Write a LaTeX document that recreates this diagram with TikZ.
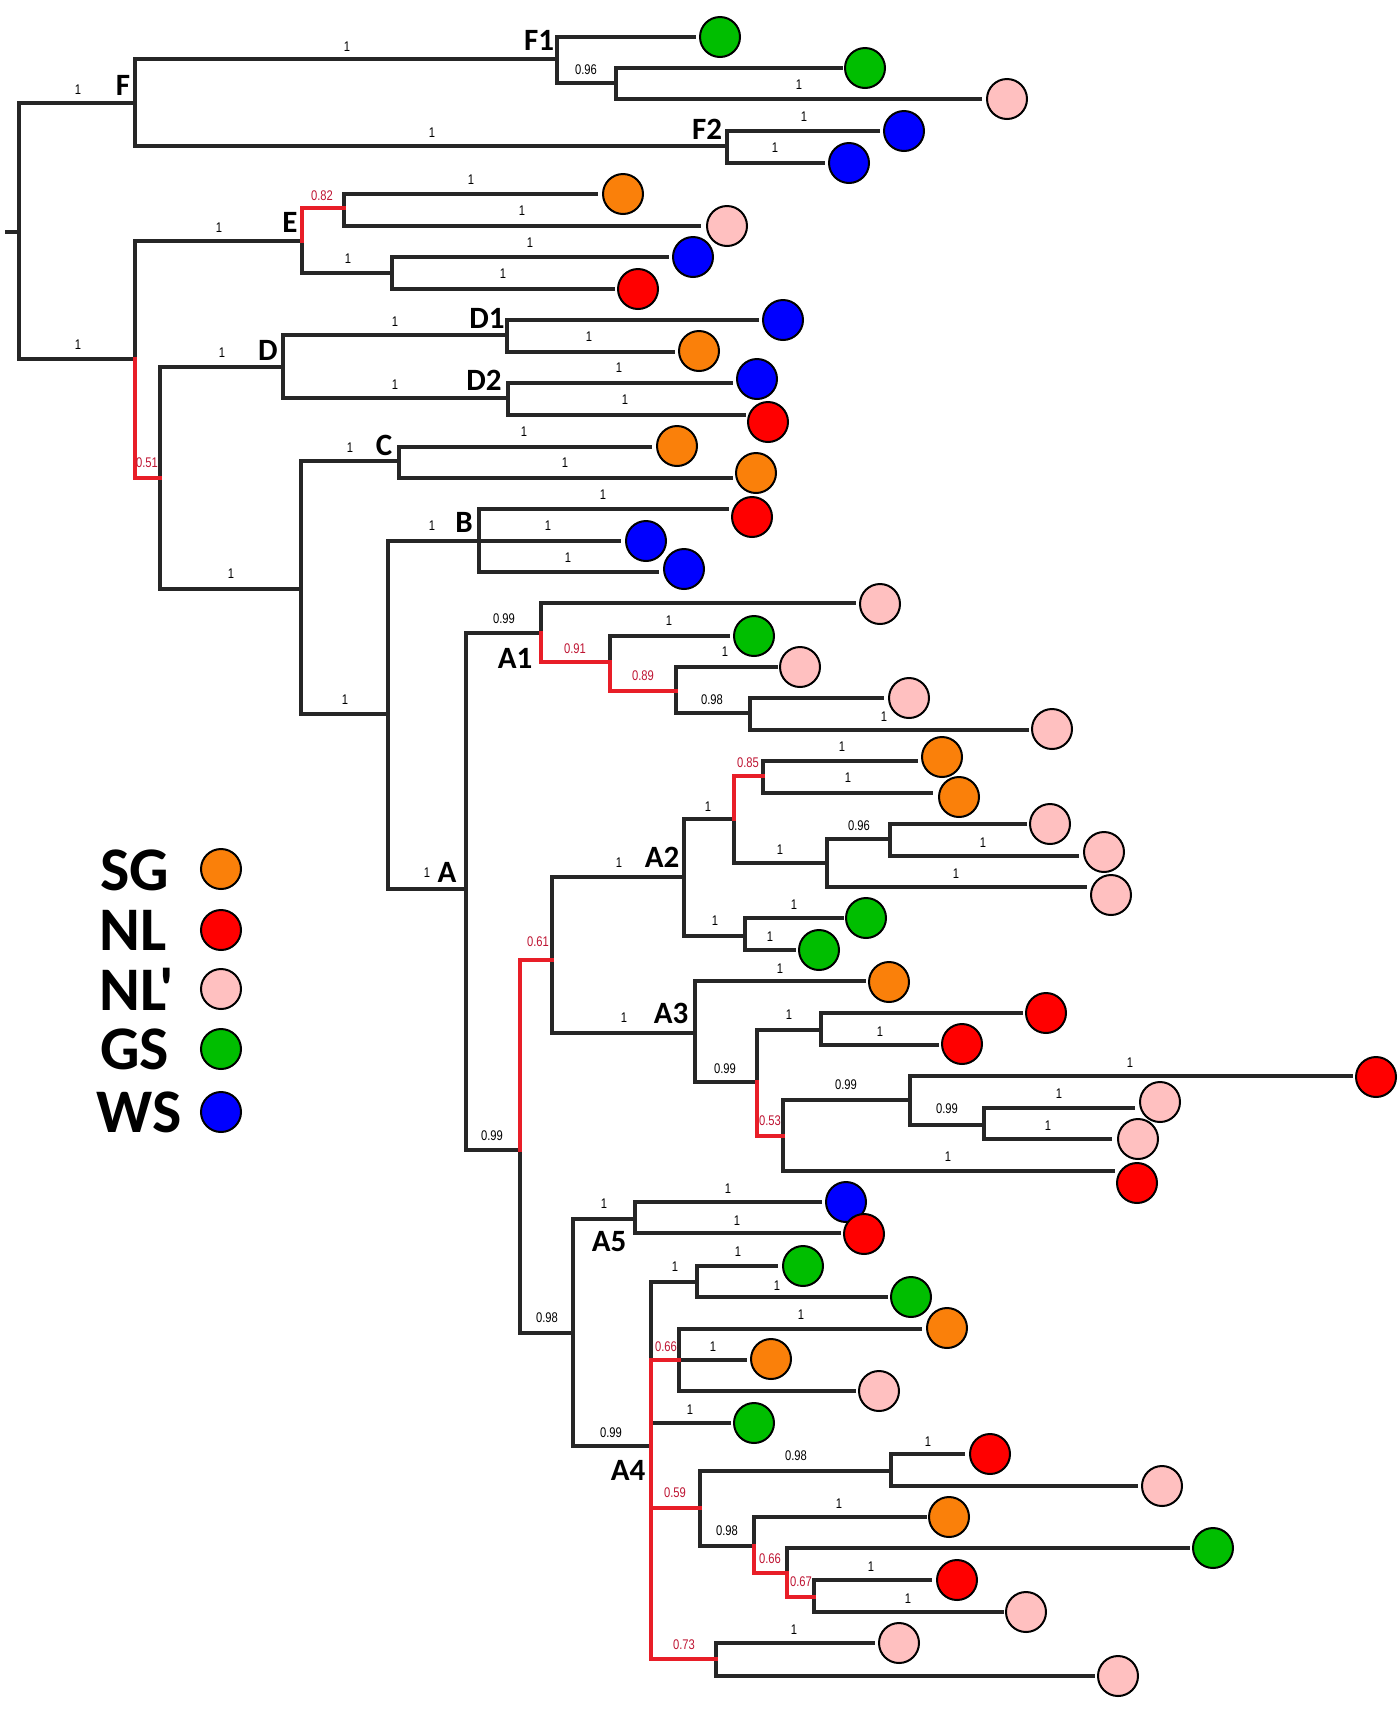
\documentclass[tikz,border=0pt]{standalone}
\usepackage{fontspec}
\setmainfont{Liberation Sans}
\newfontfamily\clfont{Carlito}
\newfontfamily\narrowf[FakeStretch=0.8]{Liberation Sans}
\definecolor{cOr}{RGB}{250,128,10}
\definecolor{cRd}{RGB}{255,0,0}
\definecolor{cPk}{RGB}{255,192,192}
\definecolor{cGn}{RGB}{0,190,0}
\definecolor{cBl}{RGB}{0,0,255}
\definecolor{brRed}{RGB}{232,30,40}
\definecolor{lbRed}{RGB}{190,20,50}
\tikzset{
 br/.style={line width=1.8pt, draw=black!85, line cap=rect},
 rbr/.style={line width=1.8pt, draw=brRed, line cap=rect},
 dot/.style={circle, draw=black, line width=1pt, minimum size=20pt, inner sep=0pt},
 bl/.style={font=\narrowf\fontsize{7}{8}\selectfont, inner sep=0pt, text=black},
 rl/.style={bl, text=lbRed},
 cl/.style={font=\clfont\bfseries\fontsize{15.5}{18}\selectfont, inner sep=0pt},
 lg/.style={font=\clfont\bfseries\fontsize{31}{36}\selectfont, inner sep=0pt, anchor=west},
}
% leaf: name, parent, line end x, line y, circle x, circle y, colour
\newcommand{\lf}[7]{\coordinate (#1e) at (#3,#4); \node[dot,fill=#7] (#1) at (#5,#6) {}; \draw[br] (#2) |- (#1e);}
\begin{document}
\begin{tikzpicture}[x=0.5pt,y=-0.5pt]
\useasboundingbox (0,0) rectangle (1400,1725);
% internal nodes
\coordinate (rs) at (7,232);
\coordinate (root) at (19,232);
\coordinate (F) at (135,103);
\coordinate (n135) at (135,359);
\coordinate (F1) at (557,59);
\coordinate (n616) at (616,83);
\coordinate (F2) at (727,146);
\coordinate (E) at (302,241);
\coordinate (n344) at (344,208);
\coordinate (n392) at (392,273);
\coordinate (n160) at (160,478);
\coordinate (D) at (283,367);
\coordinate (D1) at (507,335);
\coordinate (D2) at (508,398);
\coordinate (n301) at (301,589);
\coordinate (C) at (399,461);
\coordinate (n388) at (388,714);
\coordinate (B) at (479,541);
\coordinate (A) at (466,889);
\coordinate (A1) at (541,633);
\coordinate (n610) at (610,662);
\coordinate (n676) at (676,691);
\coordinate (n750) at (750,713);
\coordinate (n520) at (520,1150);
\coordinate (n552) at (552,960);
\coordinate (A2) at (684,877);
\coordinate (n734) at (734,819);
\coordinate (n763) at (763,776);
\coordinate (n827) at (827,863);
\coordinate (n890) at (890,839);
\coordinate (n745) at (745,936);
\coordinate (A3) at (695,1033);
\coordinate (n757) at (757,1082);
\coordinate (n821) at (821,1030);
\coordinate (n783) at (783,1136);
\coordinate (n910) at (910,1100);
\coordinate (n984) at (984,1125);
\coordinate (n573) at (573,1333);
\coordinate (A5) at (635,1219);
\coordinate (A4) at (651,1446);
\coordinate (n697) at (697,1282);
\coordinate (n679) at (679,1360);
\coordinate (n700) at (700,1508);
\coordinate (n891) at (891,1471);
\coordinate (n754) at (754,1546);
\coordinate (n787) at (787,1573);
\coordinate (n814) at (814,1597);
\coordinate (n716) at (716,1659);
% black internal branches
\draw[br] (rs) -- (root);
\draw[br] (root) |- (F);
\draw[br] (root) |- (n135);
\draw[br] (F) |- (F1);
\draw[br] (F) |- (F2);
\draw[br] (F1) |- (n616);
\draw[br] (n135) |- (E);
\draw[br] (E) |- (n392);
\draw[br] (n160) |- (D);
\draw[br] (n160) |- (n301);
\draw[br] (D) |- (D1);
\draw[br] (D) |- (D2);
\draw[br] (n301) |- (C);
\draw[br] (n301) |- (n388);
\draw[br] (n388) |- (B);
\draw[br] (n388) |- (A);
\draw[br] (A) |- (A1);
\draw[br] (A) |- (n520);
\draw[br] (n676) |- (n750);
\draw[br] (n520) |- (n573);
\draw[br] (n552) |- (A2);
\draw[br] (n552) |- (A3);
\draw[br] (A2) |- (n734);
\draw[br] (A2) |- (n745);
\draw[br] (n734) |- (n827);
\draw[br] (n827) |- (n890);
\draw[br] (A3) |- (n757);
\draw[br] (n757) |- (n821);
\draw[br] (n783) |- (n910);
\draw[br] (n910) |- (n984);
\draw[br] (n573) |- (A5);
\draw[br] (n573) |- (A4);
\draw[br] (A4) |- (n697);
\draw[br] (n700) |- (n891);
\draw[br] (n700) |- (n754);
% leaves
\lf{l01}{F1}{694}{37}{720}{37}{cGn}
\lf{l02}{n616}{841}{68}{865}{68}{cGn}
\lf{l03}{n616}{980}{99}{1007}{99}{cPk}
\lf{l04}{F2}{878}{131}{904}{131}{cBl}
\lf{l05}{F2}{823}{163}{849}{163}{cBl}
\lf{l06}{n344}{596}{194}{623}{194}{cOr}
\lf{l07}{n344}{699}{226}{727}{226}{cPk}
\lf{l08}{n392}{667}{257}{693}{257}{cBl}
\lf{l09}{n392}{613}{289}{638}{289}{cRd}
\lf{l10}{D1}{757}{320}{783}{320}{cBl}
\lf{l11}{D1}{673}{352}{699}{351}{cOr}
\lf{l12}{D2}{731}{383}{757}{379}{cBl}
\lf{l13}{D2}{744}{415}{768}{422}{cRd}
\lf{l14}{C}{650}{447}{677}{446}{cOr}
\lf{l15}{C}{731}{478}{756}{473}{cOr}
\lf{l16}{B}{727}{509}{752}{517}{cRd}
\lf{l17}{B}{619}{541}{646}{541}{cBl}
\lf{l18}{B}{657}{572}{684}{569}{cBl}
\lf{l19}{A1}{854}{603}{880}{604}{cPk}
\lf{l20}{n610}{728}{636}{754}{636}{cGn}
\lf{l21}{n676}{776}{667}{800}{667}{cPk}
\lf{l22}{n750}{882}{698}{909}{698}{cPk}
\lf{l23}{n750}{1027}{730}{1052}{729}{cPk}
\lf{l24}{n763}{916}{761}{942}{757}{cOr}
\lf{l25}{n763}{931}{793}{959}{797}{cOr}
\lf{l26}{n890}{1025}{824}{1050}{824}{cPk}
\lf{l27}{n890}{1077}{856}{1104}{852}{cPk}
\lf{l28}{n827}{1085}{887}{1111}{895}{cPk}
\lf{l29}{n745}{842}{918}{866}{918}{cGn}
\lf{l30}{n745}{794}{950}{819}{950}{cGn}
\lf{l31}{A3}{864}{981}{889}{982}{cOr}
\lf{l32}{n821}{1021}{1013}{1046}{1013}{cRd}
\lf{l33}{n821}{937}{1045}{962}{1044}{cRd}
\lf{l34}{n910}{1351}{1076}{1376}{1077}{cRd}
\lf{l35}{n984}{1133}{1108}{1160}{1102}{cPk}
\lf{l36}{n984}{1110}{1139}{1138}{1139}{cPk}
\lf{l37}{n783}{1113}{1171}{1137}{1183}{cRd}
\lf{l38}{A5}{820}{1202}{846}{1202}{cBl}
\lf{l39}{A5}{839}{1233}{864}{1234}{cRd}
\lf{l40}{n697}{776}{1266}{803}{1266}{cGn}
\lf{l41}{n697}{886}{1297}{911}{1297}{cGn}
\lf{l42}{n679}{920}{1329}{947}{1328}{cOr}
\lf{l43}{n679}{745}{1360}{771}{1359}{cOr}
\lf{l44}{n679}{854}{1391}{879}{1391}{cPk}
\lf{l45}{A4}{729}{1423}{754}{1423}{cGn}
\lf{l46}{n891}{963}{1454}{990}{1454}{cRd}
\lf{l47}{n891}{1136}{1486}{1162}{1486}{cPk}
\lf{l48}{n754}{925}{1517}{949}{1517}{cOr}
\lf{l49}{n787}{1188}{1548}{1213}{1548}{cGn}
\lf{l50}{n814}{930}{1580}{957}{1580}{cRd}
\lf{l51}{n814}{1002}{1612}{1026}{1612}{cPk}
\lf{l52}{n716}{873}{1643}{899}{1643}{cPk}
\lf{l53}{n716}{1093}{1676}{1118}{1676}{cPk}
% red internal branches (drawn last)
\draw[rbr] (E) |- (n344);
\draw[rbr] (n135) |- (n160);
\draw[rbr] (A1) |- (n610);
\draw[rbr] (n610) |- (n676);
\draw[rbr] (n520) |- (n552);
\draw[rbr] (n734) |- (n763);
\draw[rbr] (n757) |- (n783);
\draw[rbr] (A4) |- (n679);
\draw[rbr] (A4) |- (n700);
\draw[rbr] (A4) |- (n716);
\draw[rbr] (n754) |- (n787);
\draw[rbr] (n787) |- (n814);
% branch support labels
\node[bl] at (78,90) {1};
\node[bl] at (78,345) {1};
\node[bl] at (347,47) {1};
\node[bl] at (432,133) {1};
\node[bl] at (586,70) {0.96};
\node[bl] at (799,85) {1};
\node[bl] at (804,117) {1};
\node[bl] at (775,148) {1};
\node[bl] at (219,228) {1};
\node[rl] at (322,196) {0.82};
\node[bl] at (471,180) {1};
\node[bl] at (522,211) {1};
\node[bl] at (348,259) {1};
\node[bl] at (530,243) {1};
\node[bl] at (503,274) {1};
\node[rl] at (147,463) {0.51};
\node[bl] at (222,353) {1};
\node[bl] at (395,322) {1};
\node[bl] at (589,337) {1};
\node[bl] at (395,385) {1};
\node[bl] at (619,368) {1};
\node[bl] at (625,400) {1};
\node[bl] at (231,574) {1};
\node[bl] at (350,448) {1};
\node[bl] at (524,432) {1};
\node[bl] at (565,463) {1};
\node[bl] at (345,700) {1};
\node[bl] at (432,526) {1};
\node[bl] at (603,495) {1};
\node[bl] at (548,526) {1};
\node[bl] at (568,558) {1};
\node[bl] at (427,873) {1};
\node[bl] at (504,619) {0.99};
\node[rl] at (575,649) {0.91};
\node[bl] at (669,621) {1};
\node[rl] at (643,676) {0.89};
\node[bl] at (725,652) {1};
\node[bl] at (712,700) {0.98};
\node[bl] at (884,717) {1};
\node[bl] at (492,1136) {0.99};
\node[rl] at (538,942) {0.61};
\node[bl] at (619,863) {1};
\node[bl] at (708,807) {1};
\node[rl] at (748,763) {0.85};
\node[bl] at (842,747) {1};
\node[bl] at (848,778) {1};
\node[bl] at (780,850) {1};
\node[bl] at (859,826) {0.96};
\node[bl] at (983,843) {1};
\node[bl] at (956,874) {1};
\node[bl] at (715,921) {1};
\node[bl] at (794,905) {1};
\node[bl] at (770,937) {1};
\node[bl] at (624,1018) {1};
\node[bl] at (780,969) {1};
\node[bl] at (725,1069) {0.99};
\node[bl] at (789,1015) {1};
\node[bl] at (880,1032) {1};
\node[rl] at (770,1121) {0.53};
\node[bl] at (846,1085) {0.99};
\node[bl] at (1130,1063) {1};
\node[bl] at (947,1109) {0.99};
\node[bl] at (1059,1094) {1};
\node[bl] at (1048,1126) {1};
\node[bl] at (948,1157) {1};
\node[bl] at (547,1318) {0.98};
\node[bl] at (604,1204) {1};
\node[bl] at (728,1189) {1};
\node[bl] at (737,1221) {1};
\node[bl] at (611,1433) {0.99};
\node[bl] at (675,1267) {1};
\node[bl] at (738,1252) {1};
\node[bl] at (777,1286) {1};
\node[rl] at (666,1347) {0.66};
\node[bl] at (801,1315) {1};
\node[bl] at (713,1347) {1};
\node[bl] at (690,1410) {1};
\node[rl] at (675,1493) {0.59};
\node[bl] at (796,1456) {0.98};
\node[bl] at (928,1442) {1};
\node[bl] at (727,1531) {0.98};
\node[bl] at (839,1504) {1};
\node[rl] at (770,1559) {0.66};
\node[rl] at (801,1582) {0.67};
\node[bl] at (871,1567) {1};
\node[bl] at (908,1599) {1};
\node[rl] at (684,1645) {0.73};
\node[bl] at (794,1630) {1};
% clade labels
\node[cl] (tF) at (123,85) {F};
\node[cl] (tF1) at (539,40) {F1};
\node[cl] (tF2) at (707,129) {F2};
\node[cl] (tE) at (290,222) {E};
\node[cl] (tD) at (268,350) {D};
\node[cl] (tD1) at (487,318) {D1};
\node[cl] (tD2) at (484,380) {D2};
\node[cl] (tC) at (384,445) {C};
\node[cl] (tB) at (464,522) {B};
\node[cl] (tA) at (447,872) {A};
\node[cl] (tA1) at (515,658) {A1};
\node[cl] (tA2) at (662,857) {A2};
\node[cl] (tA3) at (671,1013) {A3};
\node[cl] (tA5) at (609,1242) {A5};
\node[cl] (tA4) at (628,1470) {A4};
% legend
\node[lg] (gSG) at (100,870) {SG};
\node[lg] (gNL) at (99,930) {NL};
\node[lg] (gNLp) at (99,989) {NL'};
\node[lg] (gGS) at (100,1049) {GS};
\node[lg] (gWS) at (96,1112) {WS};
\node[dot,fill=cOr] (kSG) at (221,869) {};
\node[dot,fill=cRd] (kNL) at (221,930) {};
\node[dot,fill=cPk] (kNLp) at (221,989) {};
\node[dot,fill=cGn] (kGS) at (221,1049) {};
\node[dot,fill=cBl] (kWS) at (221,1112) {};
\end{tikzpicture}
\end{document}
